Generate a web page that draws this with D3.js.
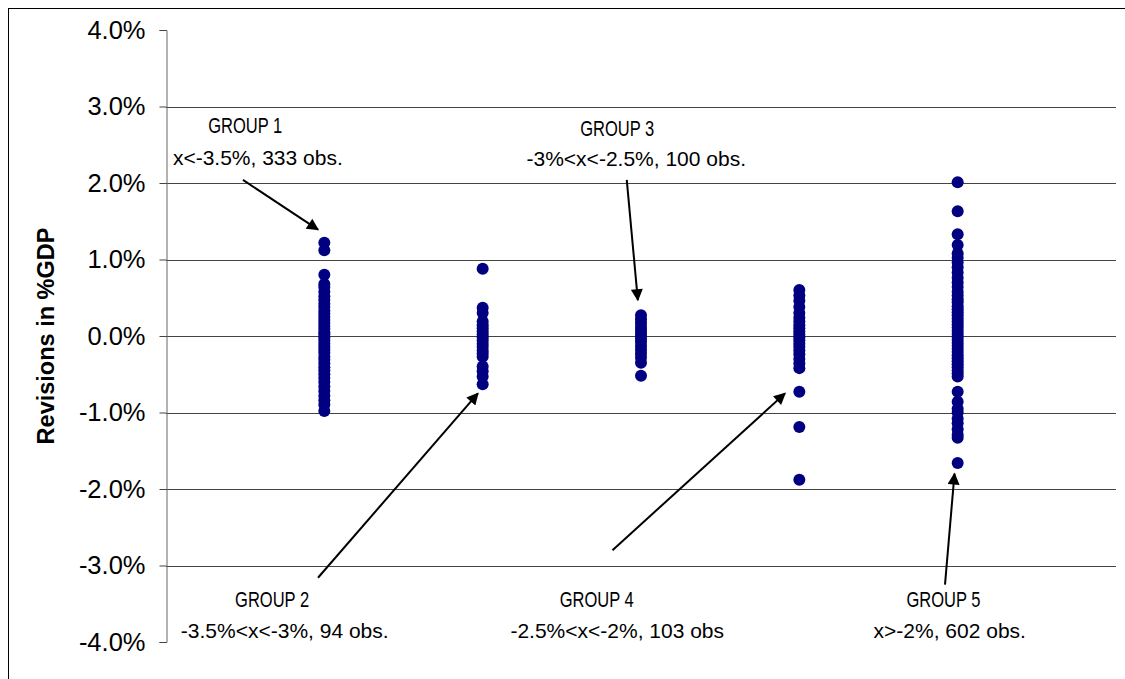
<!DOCTYPE html>
<html><head><meta charset="utf-8">
<script src="https://cdn.jsdelivr.net/npm/d3@7"></script>
<style>body{margin:0;background:#fff}svg{display:block;font-family:"Liberation Sans",Arial,sans-serif}</style>
</head><body>
<svg id="c" width="1125" height="679"></svg>
<script>
const yTicks = [4, 3, 2, 1, 0, -1, -2, -3, -4];
const group1 = [1.22, 1.12, 0.80, 0.68, 0.64, 0.58, 0.52, 0.47, 0.42, 0.38, 0.33, 0.29, 0.25, 0.21, 0.17, 0.13, 0.09, 0.05, 0.02, -0.02, -0.06, -0.10, -0.14, -0.18, -0.22, -0.27, -0.31, -0.36, -0.41, -0.45, -0.50, -0.55, -0.60, -0.66, -0.72, -0.78, -0.84, -0.90, -0.98];
const group2 = [0.88, 0.37, 0.30, 0.19, 0.14, 0.10, 0.06, 0.02, -0.02, -0.06, -0.10, -0.14, -0.19, -0.23, -0.27, -0.40, -0.46, -0.53, -0.63];
const group3 = [0.27, 0.22, 0.17, 0.12, 0.08, 0.04, 0.00, -0.04, -0.08, -0.13, -0.18, -0.23, -0.28, -0.35, -0.52];
const group4 = [0.60, 0.53, 0.46, 0.38, 0.30, 0.24, 0.19, 0.14, 0.10, 0.06, 0.02, -0.02, -0.06, -0.10, -0.14, -0.19, -0.24, -0.30, -0.36, -0.42, -0.73, -1.19, -1.88];
const group5 = [2.01, 1.63, 1.33, 1.19, 1.08, 1.02, 0.96, 0.90, 0.83, 0.76, 0.70, 0.64, 0.58, 0.53, 0.48, 0.44, 0.39, 0.35, 0.31, 0.27, 0.23, 0.19, 0.15, 0.11, 0.07, 0.03, -0.01, -0.05, -0.09, -0.13, -0.17, -0.21, -0.25, -0.29, -0.33, -0.37, -0.41, -0.45, -0.49, -0.53, -0.73, -0.86, -0.95, -1.00, -1.08, -1.14, -1.22, -1.29, -1.33, -1.66];
const groups = [group1, group2, group3, group4, group5];

// annotation labels: [x (group units), y (%)]
const labelTitles = ["GROUP 1", "GROUP 2", "GROUP 3", "GROUP 4", "GROUP 5"];
const labelDescs = ["x<-3.5%, 333 obs.", "-3.5%<x<-3%, 94 obs.", "-3%<x<-2.5%, 100 obs.", "-2.5%<x<-2%, 103 obs", "x>-2%, 602 obs."];
const titlePos = [[0.50, 2.65], [0.67, -3.54], [2.85, 2.61], [2.72, -3.54], [4.91, -3.54]];
const descPos = [[0.58, 2.23], [0.75, -3.95], [2.97, 2.22], [2.85, -3.95], [4.95, -3.95]];
// arrows: [x1, y1, x2, y2] in data units
const arrows = [[0.486, 2.04, 0.96, 1.39], [0.96, -3.16, 1.97, -0.75], [2.91, 2.04, 2.98, 0.47], [2.82, -2.80, 3.91, -0.75], [4.92, -3.25, 4.98, -1.80]];

const svg = d3.select("#c");
const L = 166, R = 1116, T = 30, B = 642;
const x = d3.scaleLinear().domain([0, 6]).range([L, R]);
const y = d3.scaleLinear().domain([-4, 4]).range([B, T]);

svg.append("rect").attr("x", 8.5).attr("y", 8.5).attr("width", 1200).attr("height", 1000)
  .attr("fill", "none").attr("stroke", "#000");

// gridlines
svg.append("g").selectAll("line").data(yTicks.filter(d => d !== 4 && d !== -4)).join("line")
  .attr("x1", L).attr("x2", R).attr("y1", d => Math.round(y(d)) + 0.5).attr("y2", d => Math.round(y(d)) + 0.5)
  .attr("stroke", "#444").attr("stroke-width", 1);

// y axis
const ax = svg.append("g").attr("transform", `translate(${L + 0.5},0)`)
  .call(d3.axisLeft(y).tickValues(yTicks).tickSize(7).tickFormat(d => d.toFixed(1) + "%"));
ax.select(".domain").attr("stroke", "#666");
ax.selectAll(".tick line").attr("stroke", "#444");
ax.selectAll(".tick text").attr("font-size", 25.5).attr("fill", "#000").attr("x", -21)
  .attr("font-family", "Liberation Sans, Arial, sans-serif");

svg.append("text").attr("transform", `translate(54,${(T + B) / 2}) rotate(-90)`)
  .attr("text-anchor", "middle").attr("font-weight", "bold").attr("font-size", 23.5)
  .text("Revisions in %GDP");

// dots
groups.forEach((g, i) => {
  svg.append("g").selectAll("circle").data(g).join("circle")
    .attr("cx", x(i + 1)).attr("cy", d => y(d)).attr("r", 6).attr("fill", "#000080");
});

// arrows
svg.append("defs").append("marker").attr("id", "ah").attr("viewBox", "0 0 10 10")
  .attr("refX", 9).attr("refY", 5)
  .attr("markerUnits", "userSpaceOnUse").attr("orient", "auto")
  .attr("markerWidth", 14).attr("markerHeight", 12)
  .append("path").attr("d", "M0,0 L10,5 L0,10 Z").attr("fill", "#000");
svg.append("g").selectAll("line").data(arrows).join("line")
  .attr("x1", d => x(d[0])).attr("y1", d => y(d[1])).attr("x2", d => x(d[2])).attr("y2", d => y(d[3]))
  .attr("stroke", "#000").attr("stroke-width", 2).attr("marker-end", "url(#ah)");

// labels
const lab = svg.append("g").attr("text-anchor", "middle");
labelTitles.forEach((t, i) => {
  lab.append("text").attr("x", x(titlePos[i][0])).attr("y", y(titlePos[i][1]))
    .attr("font-size", 22).attr("textLength", 74).attr("lengthAdjust", "spacingAndGlyphs").text(t);
  lab.append("text").attr("x", x(descPos[i][0])).attr("y", y(descPos[i][1]))
    .attr("font-size", 21).text(labelDescs[i]);
});
</script>
</body></html>
